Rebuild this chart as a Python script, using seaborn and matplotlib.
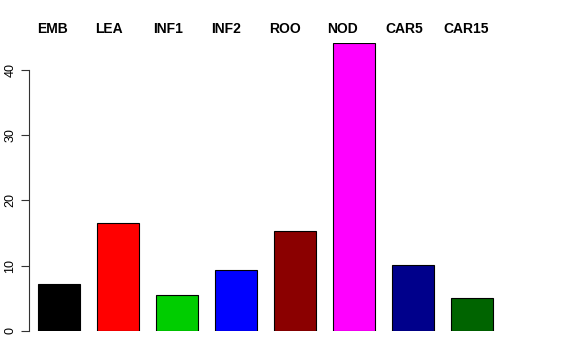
import matplotlib
matplotlib.use("Agg")
import matplotlib.pyplot as plt
import seaborn as sns
import pandas as pd

tissues = ["EMB", "LEA", "INF1", "INF2", "ROO", "NOD", "CAR5", "CAR15"]
values = [7.2, 16.55, 5.5, 9.35, 15.3, 44.1, 10.1, 5.05]
colors = ["#000000", "#FF0000", "#00CD00", "#0000FF", "#8B0000", "#FF00FF", "#00008B", "#006400"]
yticks = [0, 10, 20, 30, 40]

sns.set_style("white")
plt.rcParams["font.family"] = ["Liberation Sans", "DejaVu Sans"]
plt.rcParams["text.color"] = "black"
plt.rcParams["ytick.color"] = "black"

df = pd.DataFrame({"tissue": tissues, "value": values})

fig = plt.figure(figsize=(5.76, 3.6), dpi=100)
# R-like plot region, measured in pixels
ax = fig.add_axes([29 / 576, 29 / 360, (520 - 29) / 576, (331 - 43) / 360])

sns.barplot(data=df, x="tissue", y="value", hue="tissue", palette=colors,
            legend=False, width=0.71, saturation=1, edgecolor="black",
            linewidth=0.8, ax=ax)

ax.set_xlim((29 - 59) / 59, (520 - 59) / 59)
ax.set_ylim(0, max(values))
ax.set_xlabel("")
ax.set_ylabel("")
ax.set_xticks([])
ax.set_yticks(yticks)
ax.set_yticklabels([str(t) for t in yticks], rotation=90, va="center", fontsize=9)
ax.tick_params(axis="y", length=6, width=0.8, color="#333333", labelcolor="black",
               pad=3, left=True)

for s in ["top", "right", "bottom"]:
    ax.spines[s].set_visible(False)
ax.spines["left"].set_bounds(0, 40)
ax.spines["left"].set_linewidth(0.8)
ax.spines["left"].set_color("#333333")

# tissue names along the top, left-aligned
for i, name in enumerate(tissues):
    ax.text(-0.364 + 0.983 * i, 1.05, name, transform=ax.get_xaxis_transform(),
            ha="left", va="center", fontsize=10, fontweight="bold", color="black")

fig.savefig("out.png", dpi=100)
